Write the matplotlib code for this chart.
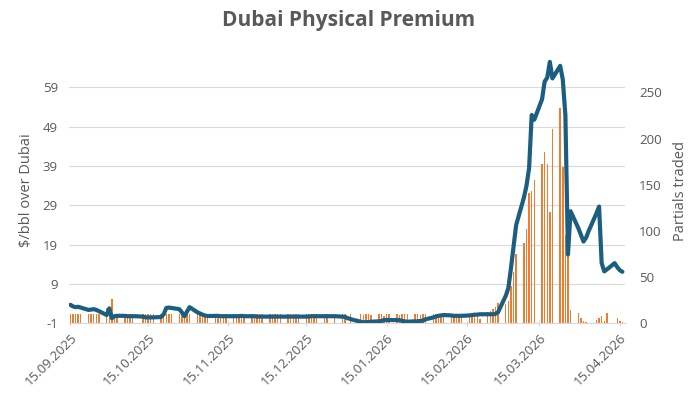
import matplotlib
matplotlib.use('Agg')
import matplotlib.pyplot as plt
import matplotlib.dates as mdates
import pandas as pd

# trading days, 15.09.2025 - 16.04.2026 (one row per week, Mon..Fri)
dates = pd.bdate_range('2025-09-15', '2026-04-16')

# Dubai physical premium, $/bbl (left axis)
premium = [
    3.7, 3.3, 3.1, 3.2, 3.0,
    2.4, 2.5, 2.6, 2.4, 2.1,
    1.1, 2.8, 0.3, 0.8, 0.9,
    0.9, 0.8, 0.8, 0.8, 0.8,
    0.7, 0.5, 0.5, 0.5, 0.5,
    0.6, 1.3, 2.9, 3.0, 2.9,
    2.6, 1.8, 0.8, 2.0, 3.1,
    1.8, 1.5, 1.2, 0.95, 0.85,
    0.9, 0.9, 0.8, 0.8, 0.8,
    0.8, 0.8, 0.8, 0.9, 0.8,
    0.8, 0.8, 0.7, 0.7, 0.7,
    0.7, 0.7, 0.7, 0.7, 0.7,
    0.7, 0.7, 0.7, 0.7, 0.7,
    0.7, 0.7, 0.8, 0.8, 0.8,
    0.8, 0.8, 0.8, 0.8, 0.8,
    0.7, 0.6, 0.3, 0.1, -0.1,
    -0.6, -0.75, -0.7, -0.7, -0.6,
    -0.5, -0.4, -0.2, -0.15, -0.15,
    -0.2, -0.2, -0.4, -0.5, -0.6,
    -0.5, -0.5, -0.4, -0.3, 0.0,
    0.5, 0.7, 0.9, 1.0, 1.1,
    1.0, 0.9, 0.9, 0.9, 0.9,
    1.0, 1.1, 1.2, 1.2, 1.3,
    1.3, 1.3, 1.3, 1.4, 1.8,
    6.0, 8.0, 13.0, 18.5, 24.0,
    31.0, 34.0, 38.5, 52.0, 50.8,
    56.0, 60.5, 61.5, 65.5, 61.3,
    64.5, 61.0, 52.0, 16.5, 27.5,
    23.2, 21.5, 19.8, 20.8, 22.5,
    27.0, 28.7, 14.3, 12.2, 12.7,
    14.3, 13.3, 12.5, 12.1,
]

# partials traded (right axis)
partials = [
    10, 10, 10, 10, 10,
    10, 10, 10, 10, 10,
    16.5, 10, 26, 10, 10,
    10, 10, 10, 10, 0,
    10, 10, 10, 10, 10,
    10, 10, 10, 10, 10,
    10, 10, 10, 10, 10,
    10, 10, 10, 10, 10,
    10, 10, 10, 10, 10,
    10, 10, 10, 10, 10,
    10, 10, 10, 10, 10,
    10, 10, 10, 10, 10,
    10, 10, 10, 10, 10,
    10, 10, 10, 10, 10,
    10, 10, 0, 0, 10,
    10, 10, 0, 10, 0,
    10, 9, 10, 10, 9,
    10, 10, 8, 10, 10,
    10, 9, 10, 10, 10,
    10, 10, 9, 10, 10,
    10, 10, 10, 10, 9,
    10, 10, 10, 10, 10,
    10, 10, 9, 10, 5,
    12.6, 12.9, 15.5, 17.3, 21.7,
    20.6, 24.1, 40.7, 55.9, 75,
    86.6, 102, 141, 143, 155,
    173, 185, 173, 121, 210,
    233, 169.6, 95.6, 74, 14.4,
    11.5, 5.4, 2.5, 1.5, 0,
    3.6, 5.4, 7.9, 2.0, 11.5,
    0.8, 5.4, 2.0, 1.0,
]

month_ticks = pd.date_range('2025-09-01', '2026-04-01', freq='MS') + pd.Timedelta(days=14)

grey = '#595959'
plt.rcParams['font.family'] = ['Open Sans', 'DejaVu Sans']
plt.rcParams['axes.unicode_minus'] = False

fig = plt.figure(figsize=(6.98, 3.96), dpi=100)
ax = fig.add_axes([0.099, 0.1836, 0.7964, 0.67])
ax2 = ax.twinx()
ax3 = ax.twinx()

# grid + left axis
ax.set_ylim(-1, 66.5)
ax.set_yticks(range(-1, 60, 10))
ax.grid(axis='y', color='#d9d9d9', lw=0.8)
ax.set_axisbelow(True)
ax.set_ylabel('$/bbl over Dubai', color=grey, fontsize=10.5, labelpad=6)

# bars on the right axis
ax2.bar(dates, partials, width=0.55, color='#ED7D31', zorder=2)
ax2.set_ylim(0, 287.3)
ax2.set_yticks(range(0, 251, 50))
ax2.set_ylabel('Partials traded', color=grey, fontsize=10.5, labelpad=8)

# line on top, same scale as left axis
ax3.plot(dates, premium, color='#1b5e80', lw=3.0, solid_joinstyle='round', solid_capstyle='round')
ax3.set_ylim(ax.get_ylim())
ax3.set_yticks([])

xmin = pd.Timestamp('2025-09-14 12:00')
xmax = pd.Timestamp('2026-04-17 00:00')
for a in (ax, ax2, ax3):
    a.set_xlim(xmin, xmax)
    for s in a.spines.values():
        s.set_visible(False)

ax.spines['bottom'].set_visible(True)
ax.spines['bottom'].set_color('#d9d9d9')
ax.set_xticks(month_ticks)
ax.xaxis.set_major_formatter(mdates.DateFormatter('%d.%m.%Y'))
ax.tick_params(axis='x', colors='#d9d9d9', length=4, direction='inout', labelcolor=grey, labelsize=9.5)
for lbl in ax.get_xticklabels():
    lbl.set_rotation(45)
    lbl.set_ha('right')
    lbl.set_rotation_mode('anchor')
ax.tick_params(axis='y', length=0, labelcolor=grey, labelsize=9.5, pad=8)
ax2.tick_params(axis='y', length=0, labelcolor=grey, labelsize=9.5, pad=10)
ax2.tick_params(axis='x', length=0, labelbottom=False)
ax3.tick_params(axis='x', length=0, labelbottom=False)

fig.suptitle('Dubai Physical Premium', x=0.5, y=0.975, fontsize=15, fontweight='bold', color=grey)

fig.savefig('out.png', dpi=100)
